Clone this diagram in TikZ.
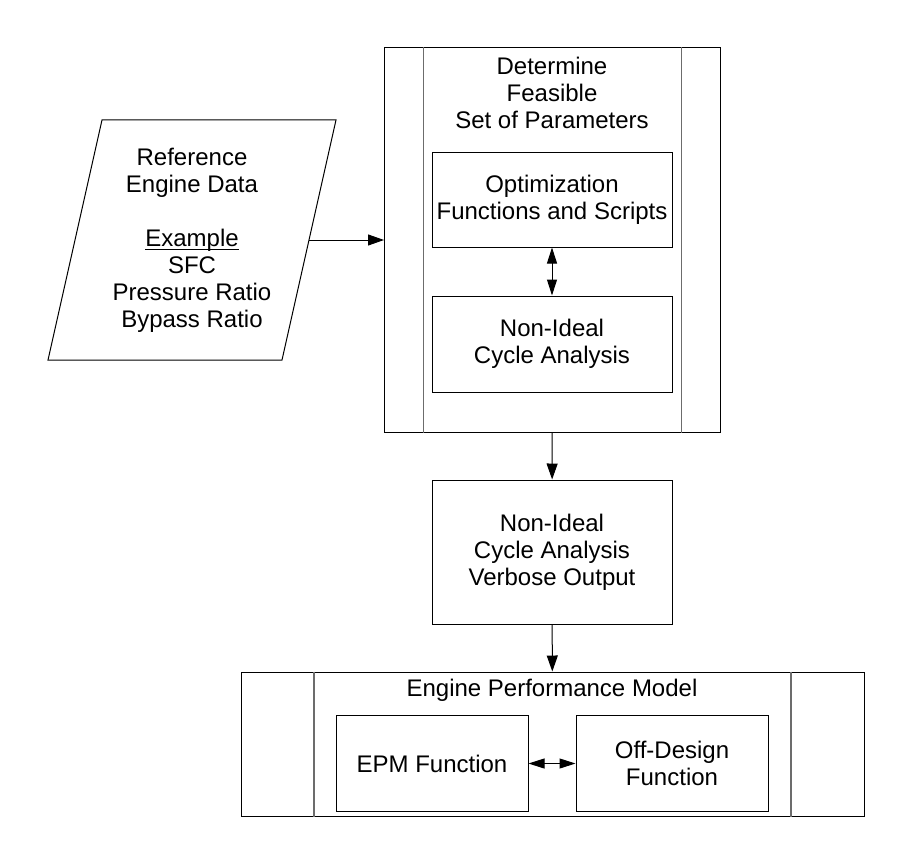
\documentclass[tikz,border=0pt]{standalone}
\usepackage{fontspec}
\setmainfont{Liberation Sans}
\usetikzlibrary{arrows.meta}
\newcommand\myul[1]{\setbox0\hbox{#1}\rlap{\rule[-3pt]{\wd0}{1.1pt}}\box0}
\begin{document}
\begin{tikzpicture}[x=1pt,y=-1pt,
  font=\fontsize{24}{27}\selectfont,
  box/.style={draw=black,line width=1pt,rectangle,inner sep=0pt,align=center},
  inner/.style={draw=gray!85!black,line width=1.4pt},
  arr/.style={line width=1pt,-{Triangle[length=16pt,width=11pt]}},
  darr/.style={line width=1pt,{Triangle[length=16pt,width=10pt]}-{Triangle[length=16pt,width=10pt]}},
  txt/.style={align=center,inner sep=0pt}]
\useasboundingbox (0,0) rectangle (912,864);
% top predefined process
\node[box,minimum width=336pt,minimum height=384pt] (top) at (552.5,240) {};
\draw[inner] ([xshift=39.5pt]top.north west) -- ([xshift=39.5pt]top.south west);
\draw[inner] ([xshift=-39.5pt]top.north east) -- ([xshift=-39.5pt]top.south east);
\node[txt] (toptxt) at (552,93) {Determine\\Feasible\\Set of Parameters};
\node[box,minimum width=240pt,minimum height=95pt] (opt) at (552,199.5) {Optimization\\Functions and Scripts};
\node[box,minimum width=240pt,minimum height=96pt] (nic) at (552,344) {Non-Ideal\\Cycle Analysis};
\draw[darr] (opt) -- (nic);
% parallelogram
\coordinate (p1) at (102,120);
\coordinate (p2) at (336,120);
\coordinate (p3) at (282,360);
\coordinate (p4) at (48,360);
\draw[line width=1pt] (p1) -- (p2) -- (p3) -- (p4) -- cycle;
\node[txt] (ref) at (192,240.5) {Reference\\Engine Data\\[27pt]\myul{Example}\\SFC\\Pressure Ratio\\Bypass Ratio};
\coordinate (pr) at (309,240);
\draw[arr] (pr) -- (pr -| top.west);
% middle box
\node[box,minimum width=240pt,minimum height=144pt] (verb) at (552,552) {Non-Ideal\\Cycle Analysis\\Verbose Output};
\draw[arr] (top) -- (verb);
% bottom predefined process
\node[box,minimum width=623pt,minimum height=144pt] (epm) at (552.5,744) {};
\draw[inner] ([xshift=73.5pt]epm.north west) -- ([xshift=73.5pt]epm.south west);
\draw[inner] ([xshift=-73.5pt]epm.north east) -- ([xshift=-73.5pt]epm.south east);
\draw[arr] (verb) -- (epm);
\node[txt] (epmtxt) at (552,690) {Engine Performance Model};
\node[box,minimum width=192pt,minimum height=96pt] (epmf) at (432,763.5) {EPM Function};
\node[box,minimum width=192pt,minimum height=96pt] (off) at (672,763.5) {Off-Design\\Function};
\draw[darr] (epmf) -- (off);
\end{tikzpicture}
\end{document}
